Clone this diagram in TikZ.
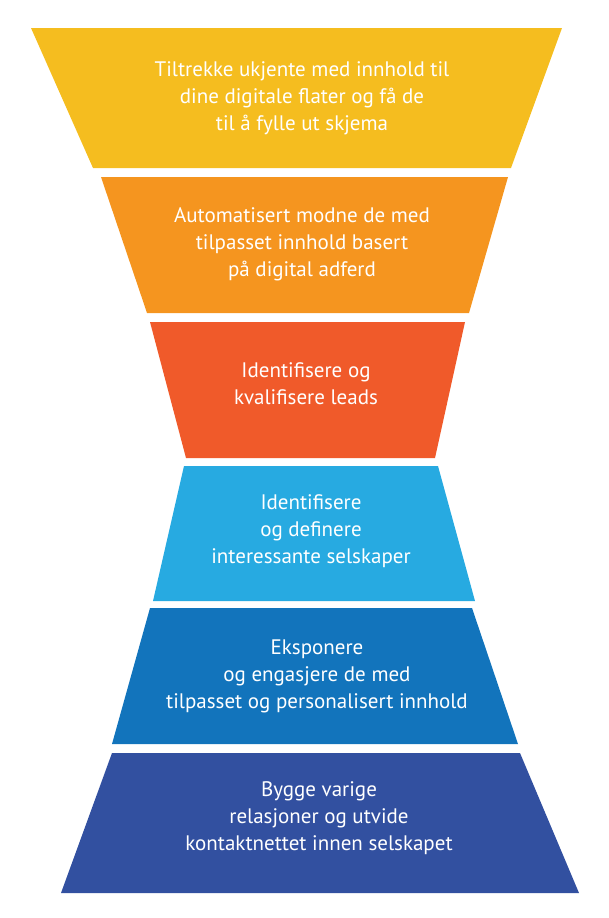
\documentclass[tikz,border=0pt]{standalone}
\usepackage{fontspec}
\setmainfont{PT Sans}
\usetikzlibrary{positioning}
\definecolor{stageA}{HTML}{F5BD1F}
\definecolor{stageB}{HTML}{F5951F}
\definecolor{stageC}{HTML}{F05A2A}
\definecolor{stageD}{HTML}{27AAE1}
\definecolor{stageE}{HTML}{1274BC}
\definecolor{stageF}{HTML}{3250A0}
\tikzstyle{stagetext} = [text=white, align=center, font=\fontsize{21}{27}\selectfont]

\begin{document}
\begin{tikzpicture}[x=1pt, y=-1pt]
  \useasboundingbox (0,0) rectangle (609,918);
  % Funnel stages
  \fill [stageA] (31,28) -- (562,28) -- (511,168) -- (93,168) -- cycle;
  \fill [stageB] (101,177) -- (508,177) -- (469,313) -- (147,313) -- cycle;
  \fill [stageC] (150,322) -- (465,322) -- (435,458) -- (186,458) -- cycle;
  \fill [stageD] (184,466) -- (438,466) -- (475,601) -- (153,601) -- cycle;
  \fill [stageE] (150,608) -- (472,608) -- (518,744) -- (112,744) -- cycle;
  \fill [stageF] (112,753) -- (520,753) -- (579,893) -- (61,893) -- cycle;

  % Stage texts
  \node [stagetext] (attract) at (302,98) {Tiltrekke ukjente med innhold til\\dine digitale flater og få de\\til å fylle ut skjema};
  \node [stagetext] (nurture) at (302,244) {Automatisert modne de med\\tilpasset innhold basert\\på digital adferd};
  \node [stagetext] (qualify) at (306,384) {Identifisere og\\kvalifisere leads};
  \node [stagetext] (define) at (311,531) {Identifisere\\og definere\\interessante selskaper};
  \node [stagetext] (engage) at (317,676) {Eksponere\\og engasjere de med\\tilpasset og personalisert innhold};
  \node [stagetext] (retain) at (319,818) {Bygge varige\\relasjoner og utvide\\kontaktnettet innen selskapet};
\end{tikzpicture}
\end{document}
